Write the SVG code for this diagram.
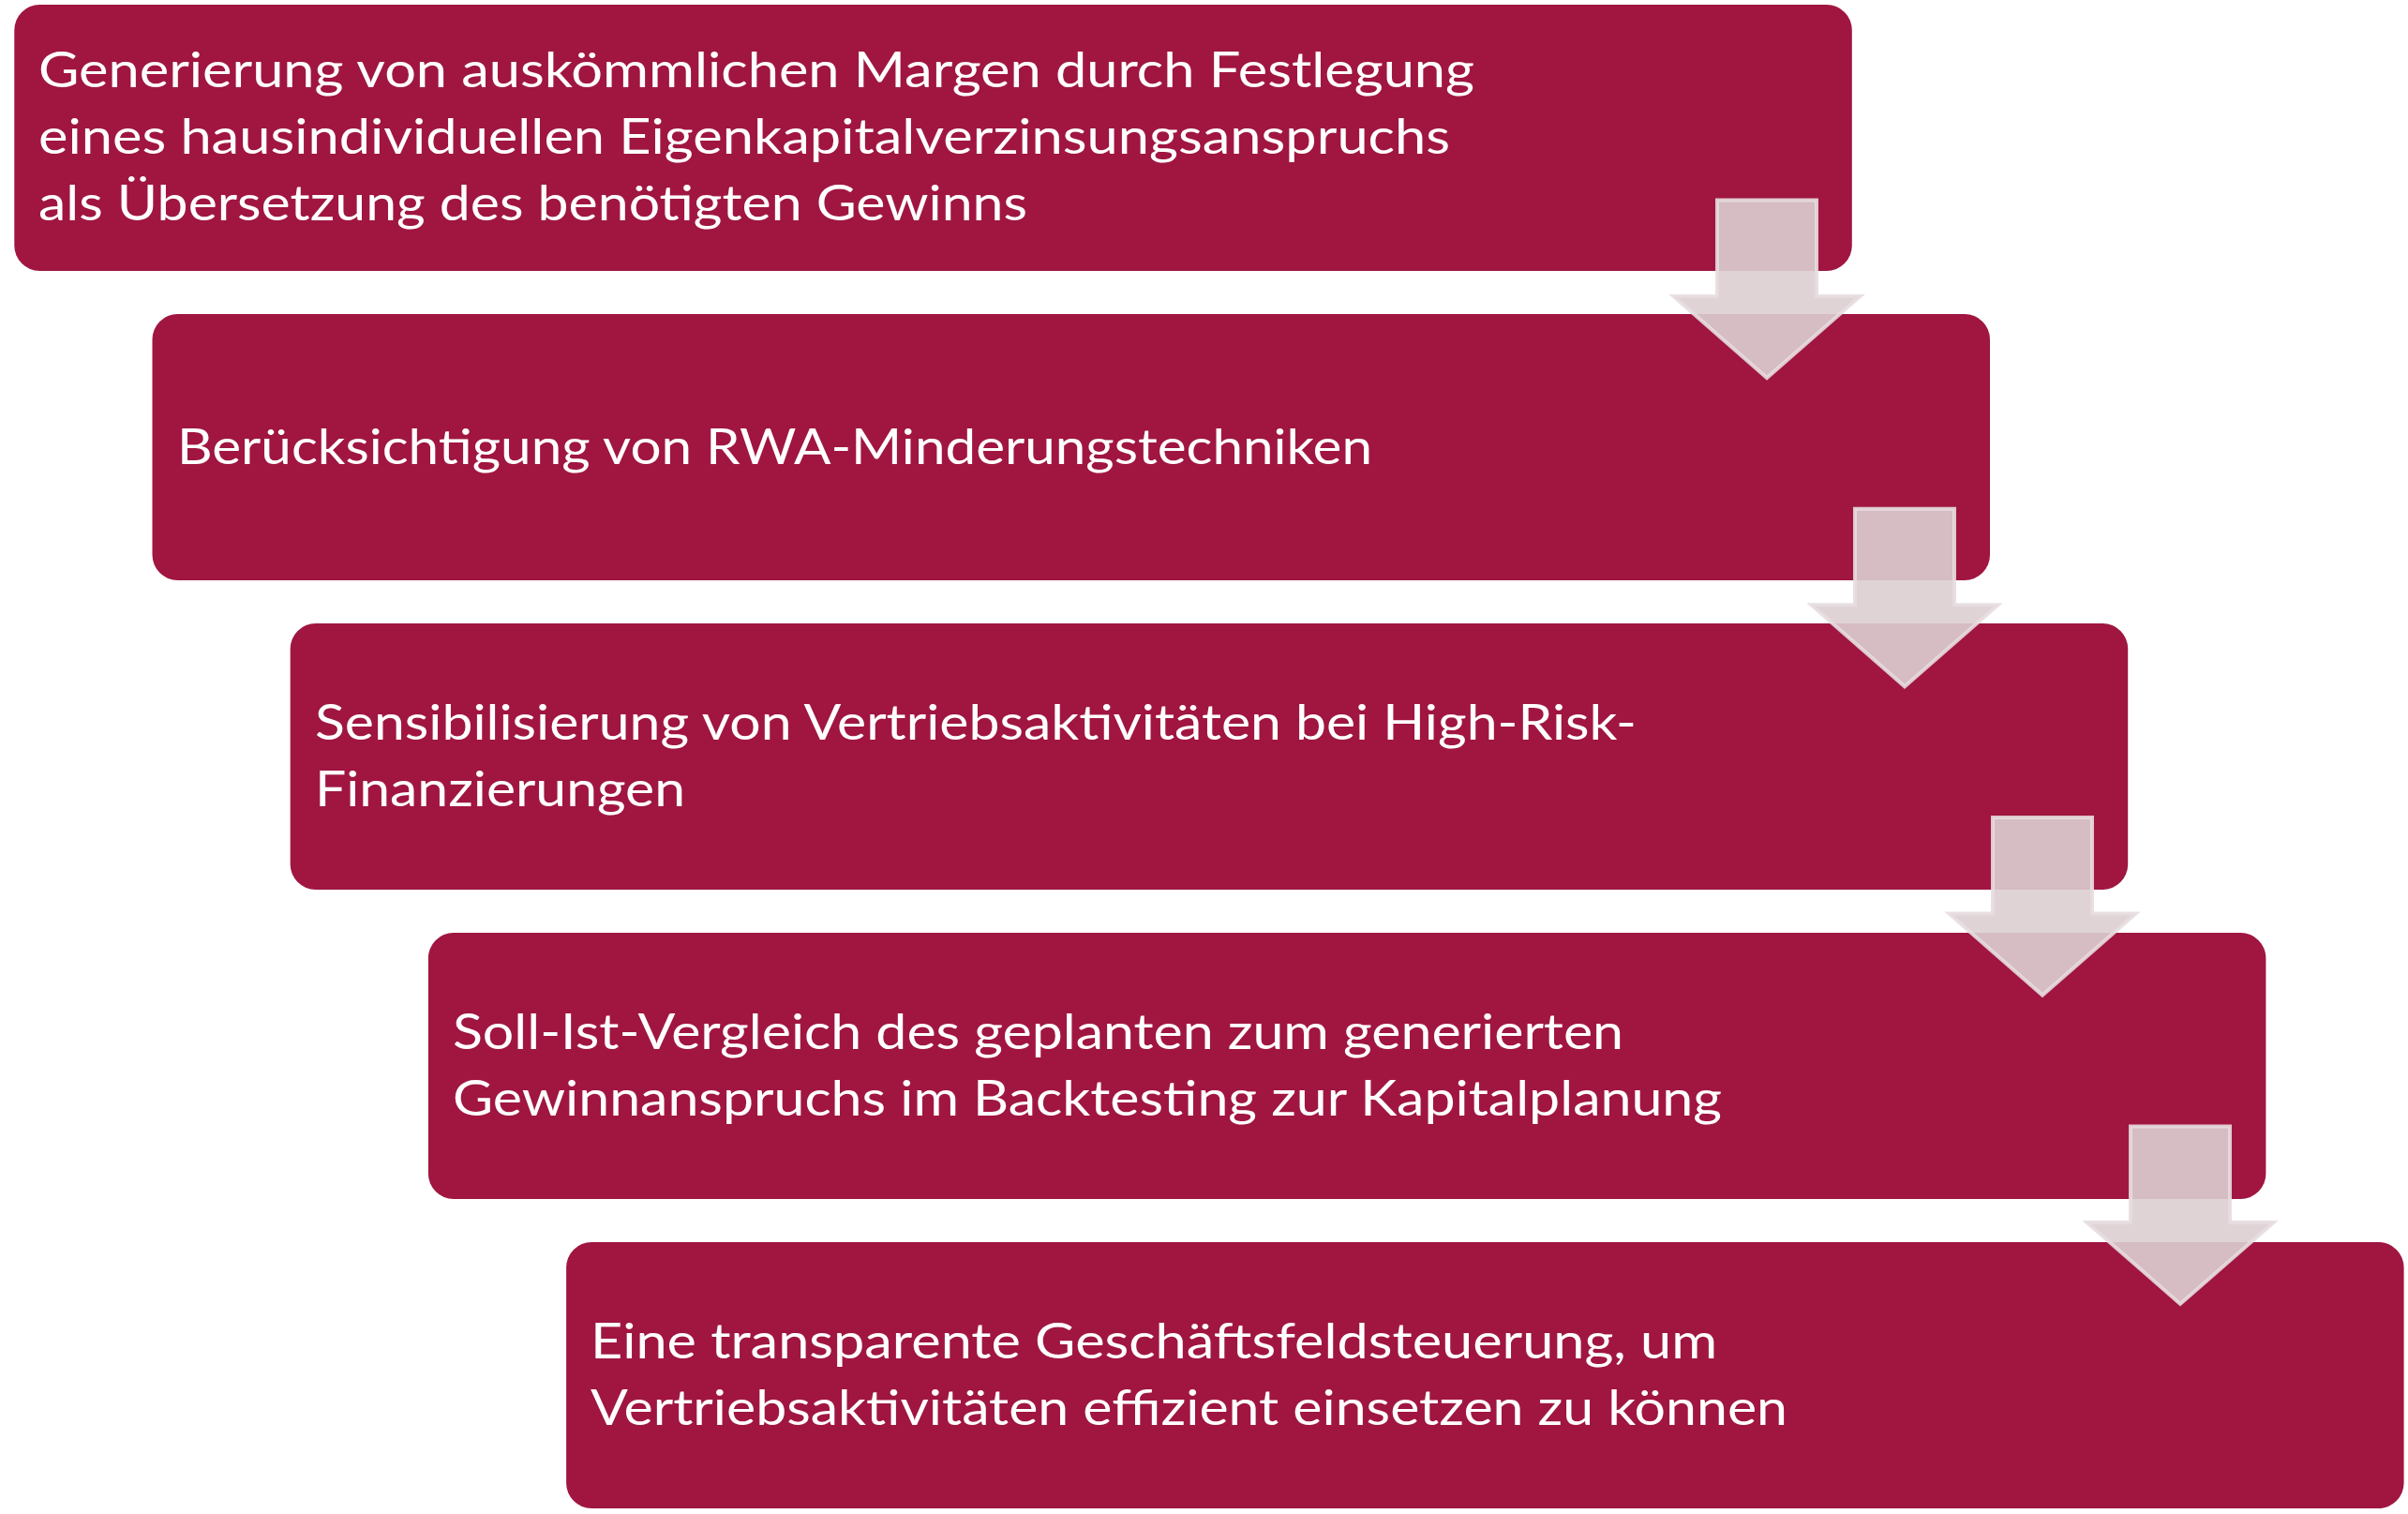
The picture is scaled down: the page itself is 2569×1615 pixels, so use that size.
<svg xmlns="http://www.w3.org/2000/svg" width="2569" height="1615" viewBox="0 0 2569 1615">
<style>
.box{fill:#A01641;}
.t{font-family:Lato,"Open Sans","Liberation Sans",sans-serif;font-size:53px;fill:#FFFFFF;}
.arr{fill:rgb(220,206,210);fill-opacity:0.9;stroke:rgb(231,221,224);stroke-opacity:0.9;stroke-width:4;stroke-linejoin:miter;}
</style>
<rect width="2569" height="1615" fill="#FFFFFF"/>
<g id="node1">
<rect class="box" x="15.3" y="5" width="1960.5" height="284" rx="27" ry="27"/>
<text class="t" x="41" y="93" textLength="1532" lengthAdjust="spacingAndGlyphs">Generierung von auskömmlichen Margen durch Festlegung</text>
<text class="t" x="41" y="164" textLength="1506" lengthAdjust="spacingAndGlyphs">eines hausindividuellen Eigenkapitalverzinsungsanspruchs</text>
<text class="t" x="41" y="235" textLength="1055" lengthAdjust="spacingAndGlyphs">als Übersetzung des benötigten Gewinns</text>
</g>
<g id="node2">
<rect class="box" x="162.5" y="335" width="1960.5" height="284" rx="27" ry="27"/>
<text class="t" x="189" y="495" textLength="1275" lengthAdjust="spacingAndGlyphs">Berücksichtigung von RWA-Minderungstechniken</text>
</g>
<g id="node3">
<rect class="box" x="309.7" y="665" width="1960.5" height="284" rx="27" ry="27"/>
<text class="t" x="336" y="788.5" textLength="1410" lengthAdjust="spacingAndGlyphs">Sensibilisierung von Vertriebsaktivitäten bei High-Risk-</text>
<text class="t" x="336" y="859.5" textLength="395" lengthAdjust="spacingAndGlyphs">Finanzierungen</text>
</g>
<g id="node4">
<rect class="box" x="456.9" y="995" width="1960.5" height="284" rx="27" ry="27"/>
<text class="t" x="483" y="1119" textLength="1249" lengthAdjust="spacingAndGlyphs">Soll-Ist-Vergleich des geplanten zum generierten</text>
<text class="t" x="483" y="1190" textLength="1354" lengthAdjust="spacingAndGlyphs">Gewinnanspruchs im Backtesting zur Kapitalplanung</text>
</g>
<g id="node5">
<rect class="box" x="604.1" y="1325" width="1960.5" height="284" rx="27" ry="27"/>
<text class="t" x="630" y="1448.5" textLength="1202" lengthAdjust="spacingAndGlyphs">Eine transparente Geschäftsfeldsteuerung, um</text>
<text class="t" x="630" y="1519.5" textLength="1277" lengthAdjust="spacingAndGlyphs">Vertriebsaktivitäten effizient einsetzen zu können</text>
</g>
<g id="connectors">
<path class="arr" d="M1832,213.5 H1938 V316 H1984.5 L1885,403 L1785.5,316 H1832 Z"/>
<path class="arr" d="M1979,542.8 H2085 V645.3 H2131.5 L2032,732.3 L1932.5,645.3 H1979 Z"/>
<path class="arr" d="M2126,872.1 H2232 V974.6 H2278.5 L2179,1061.6 L2079.5,974.6 H2126 Z"/>
<path class="arr" d="M2273,1201.4 H2379 V1303.9 H2425.5 L2326,1390.9 L2226.5,1303.9 H2273 Z"/>
</g>
</svg>
